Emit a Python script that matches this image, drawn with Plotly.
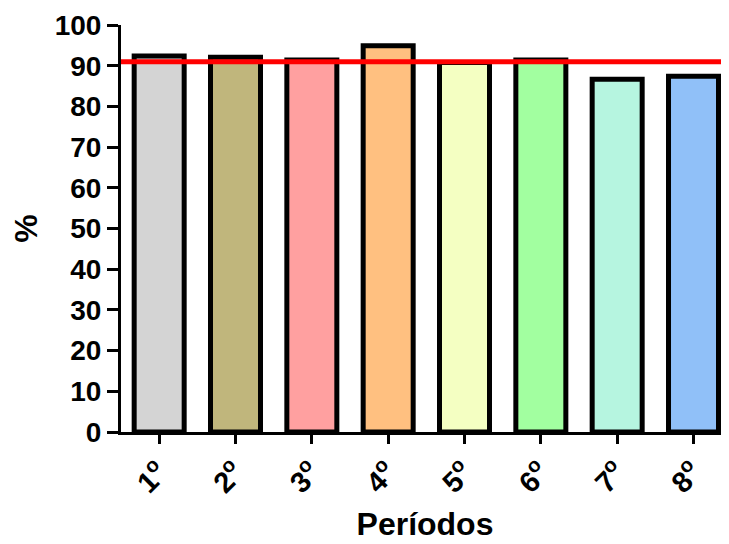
import plotly.graph_objects as go

periods = ["1<sup>o</sup>", "2<sup>o</sup>", "3<sup>o</sup>", "4<sup>o</sup>",
           "5<sup>o</sup>", "6<sup>o</sup>", "7<sup>o</sup>", "8<sup>o</sup>"]
values = [92.4, 92.1, 91.4, 94.9, 90.8, 91.4, 86.7, 87.4]
bar_colors = ["#D4D4D4", "#C0B67C", "#FFA0A0", "#FFC080", "#F4FFC2",
              "#A2FFA0", "#B6F5E0", "#90C0F8"]
reference_value = 91
y_ticks = list(range(0, 101, 10))

FONT = "Liberation Sans, Arial, sans-serif"

fig = go.Figure()
fig.add_trace(go.Bar(
    x=periods,
    y=values,
    marker=dict(color=bar_colors, line=dict(color="black", width=5)),
    showlegend=False,
))

fig.add_shape(type="line", xref="paper", x0=0, x1=1, yref="y",
              y0=reference_value, y1=reference_value,
              line=dict(color="#FF0000", width=5), layer="above")

fig.update_layout(
    width=729, height=544,
    margin=dict(l=113, r=8, t=17, b=120),
    plot_bgcolor="white", paper_bgcolor="white",
    bargap=0.345,
    font=dict(family=FONT, color="black"),
    xaxis=dict(
        range=[-0.5, 7.465],
        automargin=False,
        showline=True, linecolor="black", linewidth=3,
        ticks="outside", ticklen=9, tickwidth=3, tickcolor="black",
        tickangle=-45,
        tickfont=dict(family=FONT, size=29, color="black", weight="bold"),
        title=dict(text="Períodos", standoff=15,
                   font=dict(family=FONT, size=32, color="black", weight="bold")),
        showgrid=False, zeroline=False,
    ),
    yaxis=dict(
        range=[0, 100],
        automargin=False,
        tickvals=y_ticks,
        showline=True, linecolor="black", linewidth=3,
        ticks="outside", ticklen=11, tickwidth=3, tickcolor="black",
        tickfont=dict(family=FONT, size=28, color="black", weight="bold"),
        title=dict(text="%", standoff=28,
                   font=dict(family=FONT, size=32, color="black", weight="bold")),
        showgrid=False, zeroline=False,
    ),
)

fig.write_html("out.html")
